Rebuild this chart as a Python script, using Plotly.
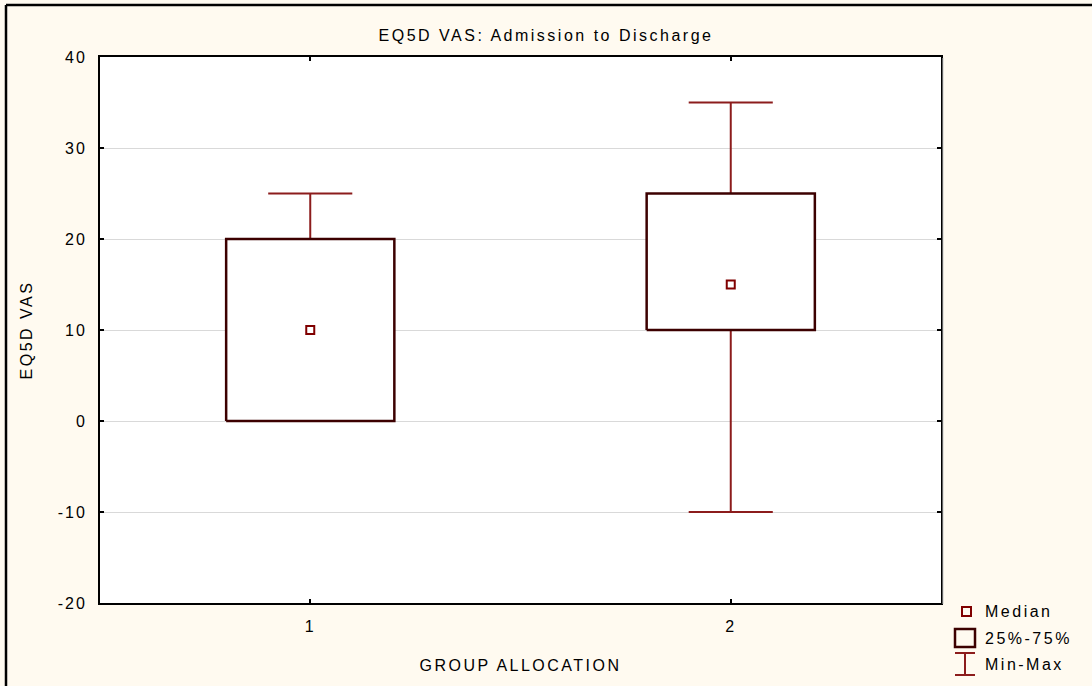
import plotly.graph_objects as go

# ---- data ----
categories = [1, 2]
q1_values = [0, 10]
q3_values = [20, 25]
median_values = [10, 15]
min_values = [0, -10]
max_values = [25, 35]
y_ticks = [-20, -10, 0, 10, 20, 30, 40]
y_tick_labels = ["-20", "-10", "0", "10", "20", "30", "40"]
x_tick_labels = ["1", "2"]

# ---- style ----
W, H = 1092, 686
ML, MR, MT, MB = 100, 151, 57, 83
BOX_HALF = 0.2
CAP_HALF = 0.1
BOX_COLOR = "#3c0000"
WHISK_COLOR = "#8c1c1c"
MED_COLOR = "#800000"
BG = "#fffaf0"
FONT = "Liberation Sans, Arial, sans-serif"
TXT = "#000000"
FS = 16

PW, PH = W - ML - MR, H - MT - MB


def px(x):
    return (x - ML) / PW


def py(y):
    return (H - MB - y) / PH


fig = go.Figure()

# whiskers
for c, lo, hi, q1, q3 in zip(categories, min_values, max_values, q1_values, q3_values):
    wx, wy = [], []
    wx += [c, c, None, c - CAP_HALF, c + CAP_HALF, None]
    wy += [q3, hi, None, hi, hi, None]
    wx += [c, c, None, c - CAP_HALF, c + CAP_HALF]
    wy += [q1, lo, None, lo, lo]
    fig.add_trace(go.Scatter(x=wx, y=wy, mode="lines",
                             line=dict(color=WHISK_COLOR, width=2),
                             hoverinfo="skip", showlegend=False))

# boxes
for c, q1, q3 in zip(categories, q1_values, q3_values):
    fig.add_trace(go.Scatter(
        x=[c - BOX_HALF, c + BOX_HALF, c + BOX_HALF, c - BOX_HALF, c - BOX_HALF],
        y=[q1, q1, q3, q3, q1], mode="lines", fill="toself", fillcolor="white",
        line=dict(color=BOX_COLOR, width=2.5), hoverinfo="skip", showlegend=False))

# medians
fig.add_trace(go.Scatter(x=categories, y=median_values, mode="markers",
                         marker=dict(symbol="square-open", size=8, color=MED_COLOR,
                                     line=dict(width=2, color=MED_COLOR)),
                         showlegend=False, name="Median"))

shapes = []
# outer frame (top & left visible)
shapes.append(dict(type="line", xref="paper", yref="paper", x0=px(6), x1=px(W), y0=py(5), y1=py(5),
                   line=dict(color="black", width=2.5)))
shapes.append(dict(type="line", xref="paper", yref="paper", x0=px(6), x1=px(6), y0=py(5), y1=py(H),
                   line=dict(color="black", width=2.5)))
# light shadow at right edge of plot frame
shapes.append(dict(type="line", xref="paper", yref="paper", x0=px(943), x1=px(943), y0=py(58), y1=py(604),
                   line=dict(color="#c8c8c8", width=1)))
# legend symbols
shapes.append(dict(type="rect", xref="paper", yref="paper", x0=px(962), x1=px(971), y0=py(607), y1=py(616),
                   line=dict(color=MED_COLOR, width=2)))
shapes.append(dict(type="rect", xref="paper", yref="paper", x0=px(955), x1=px(975), y0=py(629), y1=py(647),
                   line=dict(color=BOX_COLOR, width=2.5)))
for (x0, y0, x1, y1) in [(955, 653, 975, 653), (955, 675, 975, 675), (965, 653, 965, 675)]:
    shapes.append(dict(type="line", xref="paper", yref="paper", x0=px(x0), x1=px(x1), y0=py(y0), y1=py(y1),
                       line=dict(color=WHISK_COLOR, width=2)))

annotations = []
for label, yy in [("Median", 611), ("25%-75%", 638), ("Min-Max", 664)]:
    annotations.append(dict(text=label, xref="paper", yref="paper", x=px(983), y=py(yy),
                            xanchor="left", yanchor="middle", align="left", showarrow=False,
                            font=dict(family=FONT, size=FS, color=TXT)))

fig.update_layout(
    width=W, height=H,
    margin=dict(l=ML, r=MR, t=MT, b=MB, autoexpand=False),
    paper_bgcolor=BG, plot_bgcolor="white",
    title=dict(text="EQ5D VAS: Admission to Discharge", x=0.5, xanchor="center",
               y=1 - 35 / H, yanchor="middle", yref="container",
               font=dict(family=FONT, size=FS, color=TXT)),
    font=dict(family=FONT, size=FS, color=TXT),
    shapes=shapes, annotations=annotations,
    xaxis=dict(range=[0.5, 2.5], tickvals=categories, ticktext=x_tick_labels,
               showgrid=False, zeroline=False, showline=True, linecolor="black", linewidth=2,
               mirror="ticks", ticks="inside", ticklen=4, tickcolor="black", tickwidth=1.5,
               ticklabelstandoff=8, automargin=False,
               title=dict(text="GROUP ALLOCATION", standoff=26, font=dict(size=FS))),
    yaxis=dict(range=[-20, 40], tickvals=y_ticks, ticktext=y_tick_labels,
               showgrid=True, gridcolor="#d9d9d9", gridwidth=1, zeroline=False,
               showline=True, linecolor="black", linewidth=2,
               mirror="ticks", ticks="inside", ticklen=4, tickcolor="black", tickwidth=1.5,
               ticklabelstandoff=8, automargin=False,
               title=dict(text="EQ5D VAS", standoff=27, font=dict(size=FS))),
)

post = ("document.body.style.margin='0';document.body.style.overflow='hidden';"
        "var s=document.createElement('style');"
        "s.textContent='.main-svg text{letter-spacing:2.5px}"
        " .main-svg .ytick text, .main-svg .xtick text{letter-spacing:2px}';"
        "document.head.appendChild(s);")
fig.write_html("out.html", post_script=post, config={"displayModeBar": False})
